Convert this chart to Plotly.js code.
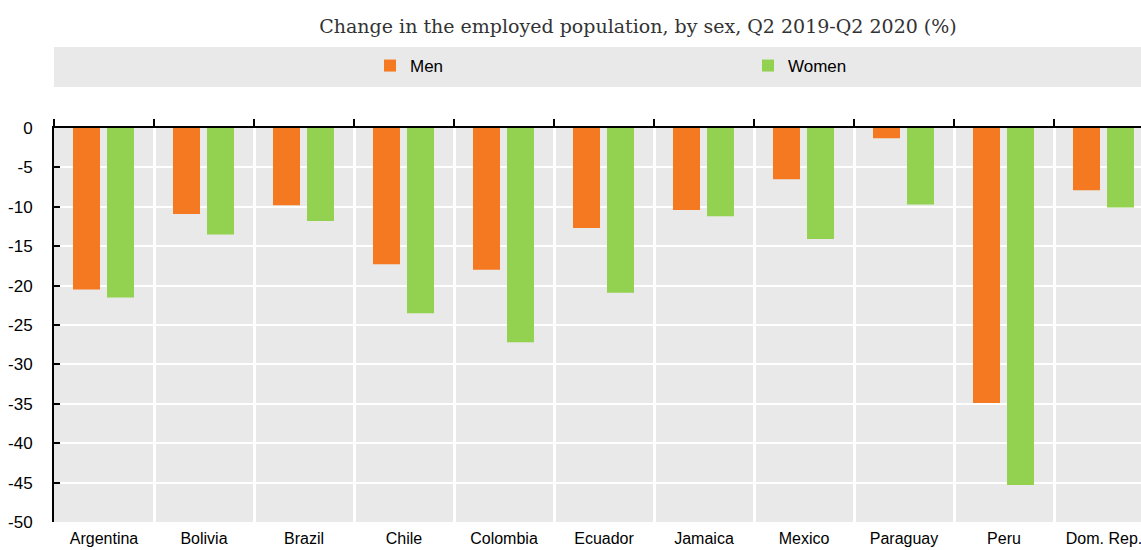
<!DOCTYPE html>
<html>
<head>
<meta charset="utf-8">
<script src="https://cdn.plot.ly/plotly-3.0.1.min.js"></script>
<style>html,body{margin:0;padding:0;background:#fff;}#chart{width:1141px;height:550px;}</style>
</head>
<body>
<div id="chart"></div>
<script>
const countries = ["Argentina","Bolivia","Brazil","Chile","Colombia","Ecuador","Jamaica","Mexico","Paraguay","Peru","Dom. Rep."];
const men   = [-20.5, -10.9, -9.8, -17.3, -18.0, -12.7, -10.4, -6.5, -1.3, -34.9, -7.9];
const women = [-21.5, -13.5, -11.8, -23.5, -27.2, -20.9, -11.2, -14.1, -9.7, -45.3, -10.1];
const yTicks = [0,-5,-10,-15,-20,-25,-30,-35,-40,-45,-50];

const sans = "Liberation Sans Narrow, Arial Narrow, Liberation Sans, Arial, sans-serif";
const W = 1141, H = 550, L = 54, T = 128, B = 28;
const plotW = W - L;

// Men on the bottom (label) axis, Women on the top (line/ticks) axis; both share the same category scale
const traces = [
  {type:"bar", name:"Men", x:countries, y:men, xaxis:"x", yaxis:"y",
   width:0.27, offset:-0.31, marker:{color:"#F47920"}, hoverinfo:"x+y"},
  {type:"bar", name:"Women", x:countries, y:women, xaxis:"x2", yaxis:"y",
   width:0.27, offset:0.03, marker:{color:"#93D150"}, hoverinfo:"x+y"}
];

const xRange = [-0.5, -0.5 + plotW/100];

const layout = {
  width: W, height: H,
  margin: {l:L, r:0, t:T, b:B, pad:0},
  paper_bgcolor: "#ffffff",
  plot_bgcolor: "#E9E9E9",
  barmode: "overlay",
  title: {
    text: "Change in the employed population, by sex, Q2 2019-Q2 2020 (%)",
    font: {family: "DejaVu Serif, serif", size: 19, color: "#333333"},
    x: 638/W, xref: "container", xanchor: "center",
    y: 1 - 26/H, yref: "container", yanchor: "middle"
  },
  showlegend: true,
  legend: {
    orientation: "h",
    x: (370 - L)/plotW, xanchor: "left",
    y: (H - B - 66)/(H - T - B), yanchor: "middle",
    bgcolor: "rgba(0,0,0,0)",
    font: {family: sans, size: 17, color: "#000"},
    entrywidth: 333, entrywidthmode: "pixels",
    itemwidth: 30,
    traceorder: "normal"
  },
  shapes: [
    {type:"rect", xref:"paper", yref:"paper", layer:"below",
     x0: 0, x1: 1.01, y0: (H - B - 87)/(H - T - B), y1: (H - B - 47)/(H - T - B),
     fillcolor:"#E9E9E9", line:{width:0}}
  ],
  xaxis: {
    type: "category",
    categoryorder: "array", categoryarray: countries,
    range: xRange,
    side: "bottom",
    showline: false,
    ticks: "",
    tickson: "boundaries",
    showgrid: true, gridcolor: "#ffffff", gridwidth: 3,
    zeroline: false,
    ticklabelstandoff: 5,
    tickfont: {family: sans, size: 16, color: "#000"},
    fixedrange: true
  },
  xaxis2: {
    type: "category",
    categoryorder: "array", categoryarray: countries,
    overlaying: "x",
    anchor: "y",
    side: "top",
    range: xRange,
    tickson: "boundaries",
    ticks: "outside", ticklen: 7, tickwidth: 2, tickcolor: "#000",
    showticklabels: false,
    showline: true, linecolor: "#000", linewidth: 2,
    showgrid: false, zeroline: false,
    fixedrange: true
  },
  yaxis: {
    range: [-50, 0],
    tickvals: yTicks,
    ticktext: yTicks.map(String),
    ticks: "inside", ticklen: 6, tickwidth: 2, tickcolor: "#000",
    showline: true, linecolor: "#000", linewidth: 2,
    showgrid: true, gridcolor: "#ffffff", gridwidth: 2,
    zeroline: false,
    ticklabelstandoff: 16,
    tickfont: {family: sans, size: 17, color: "#000"},
    fixedrange: true
  }
};

Plotly.newPlot("chart", traces, layout, {displayModeBar:false, staticPlot:true});
</script>
</body>
</html>
